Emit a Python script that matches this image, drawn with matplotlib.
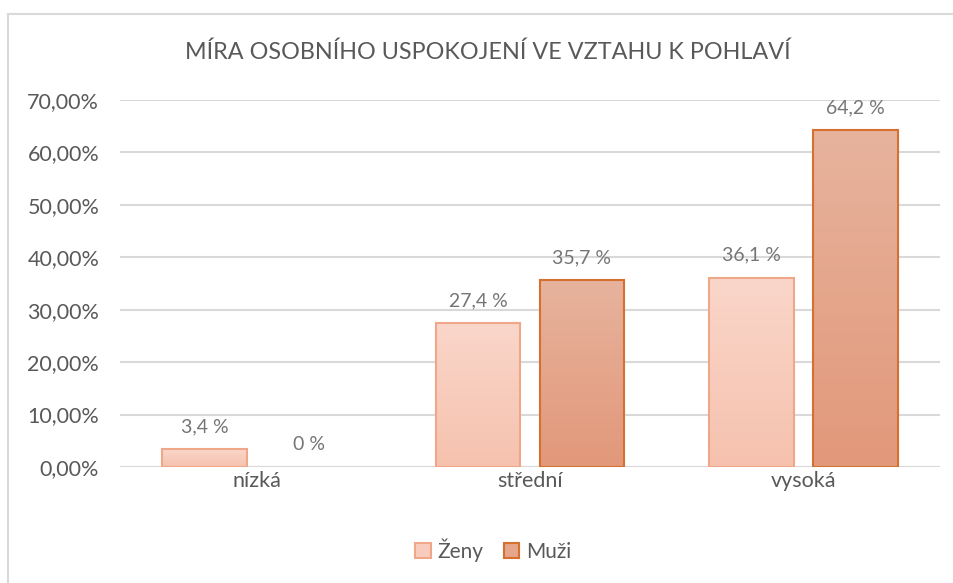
import matplotlib
matplotlib.use("Agg")
import matplotlib.pyplot as plt
import numpy as np
from matplotlib.colors import LinearSegmentedColormap
from matplotlib.patches import Rectangle
from matplotlib.lines import Line2D

categories = ["nízká", "střední", "vysoká"]
zeny = [3.4, 27.4, 36.1]
muzi = [0.0, 35.7, 64.2]
labels_zeny = ["3,4 %", "27,4 %", "36,1 %"]
labels_muzi = ["0 %", "35,7 %", "64,2 %"]
yticks = [0, 10, 20, 30, 40, 50, 60, 70]
ytick_labels = ["0,00%", "10,00%", "20,00%", "30,00%", "40,00%", "50,00%", "60,00%", "70,00%"]
series_names = ["Ženy", "Muži"]
title = "MÍRA OSOBNÍHO USPOKOJENÍ VE VZTAHU K POHLAVÍ"

plt.rcParams['font.family'] = ['Lato', 'DejaVu Sans']

fig = plt.figure(figsize=(9.54, 5.83), dpi=100)
ax = fig.add_axes([120/954, 1-467/583, 820/954, 367/583])

# chart border (left and top visible)
fig.add_artist(Line2D([8/954, 8/954], [0, 1-14/583], transform=fig.transFigure, color="#D9D9D9", lw=1.5))
fig.add_artist(Line2D([8/954, 1], [1-14/583, 1-14/583], transform=fig.transFigure, color="#D9D9D9", lw=1.5))

x = np.arange(len(categories))
w = 0.31
off = 0.19

cmaps = [
    (LinearSegmentedColormap.from_list("z", ["#F6C2AE", "#FAD6CA"]), "#F0A689"),
    (LinearSegmentedColormap.from_list("m", ["#E2987A", "#E7B39D"]), "#D6702F"),
]

grad = np.linspace(0, 1, 256).reshape(-1, 1)
for vals, sign, (cmap, ec), labs in [(zeny, -1, cmaps[0], labels_zeny), (muzi, 1, cmaps[1], labels_muzi)]:
    lws = [1.5 if v > 0 else 0 for v in vals]
    bars = ax.bar(x + sign * off, vals, width=w, facecolor="none", edgecolor=ec, linewidth=lws, zorder=3)
    for b, v, lab in zip(bars, vals, labs):
        if v > 0:
            im = ax.imshow(grad, extent=[b.get_x(), b.get_x() + b.get_width(), 0, v],
                           origin="lower", cmap=cmap, aspect="auto", zorder=2)
            clip = Rectangle((b.get_x(), 0), b.get_width(), v, transform=ax.transData)
            im.set_clip_path(clip)
        ax.annotate(lab, (b.get_x() + b.get_width() / 2, v), xytext=(0, 10),
                    textcoords="offset points", ha="center", va="bottom",
                    fontsize=14, color="#757575")

ax.set_xlim(-0.5, 2.5)
ax.set_ylim(0, 70)
ax.set_yticks(yticks)
ax.set_yticklabels(ytick_labels, fontsize=15.5, color="#595959")
ax.set_xticks(x)
ax.set_xticklabels(categories, fontsize=15.5, color="#595959")
ax.tick_params(length=0)
ax.tick_params(axis="y", pad=15)
ax.tick_params(axis="x", pad=3)
ax.grid(axis="y", color="#D9D9D9", lw=1.5, zorder=0)
ax.set_axisbelow(True)
for s in ax.spines.values():
    s.set_visible(False)
ax.axhline(0, color="#D9D9D9", lw=1.5, zorder=1)

fig.text(488/954, 1-52/583, title, ha="center", va="center", fontsize=16.8, color="#595959")

handles = [Rectangle((0, 0), 1, 1, facecolor=cmaps[i][0](0.5), edgecolor=cmaps[i][1], lw=1.5) for i in range(2)]
fig.legend(handles, series_names, loc="center", bbox_to_anchor=(493/954, 1-550/583), ncol=2,
           frameon=False, fontsize=15, labelcolor="#595959", handlelength=0.75, handleheight=0.75,
           handletextpad=0.3, columnspacing=1.0)

fig.savefig("out.png", dpi=100)
